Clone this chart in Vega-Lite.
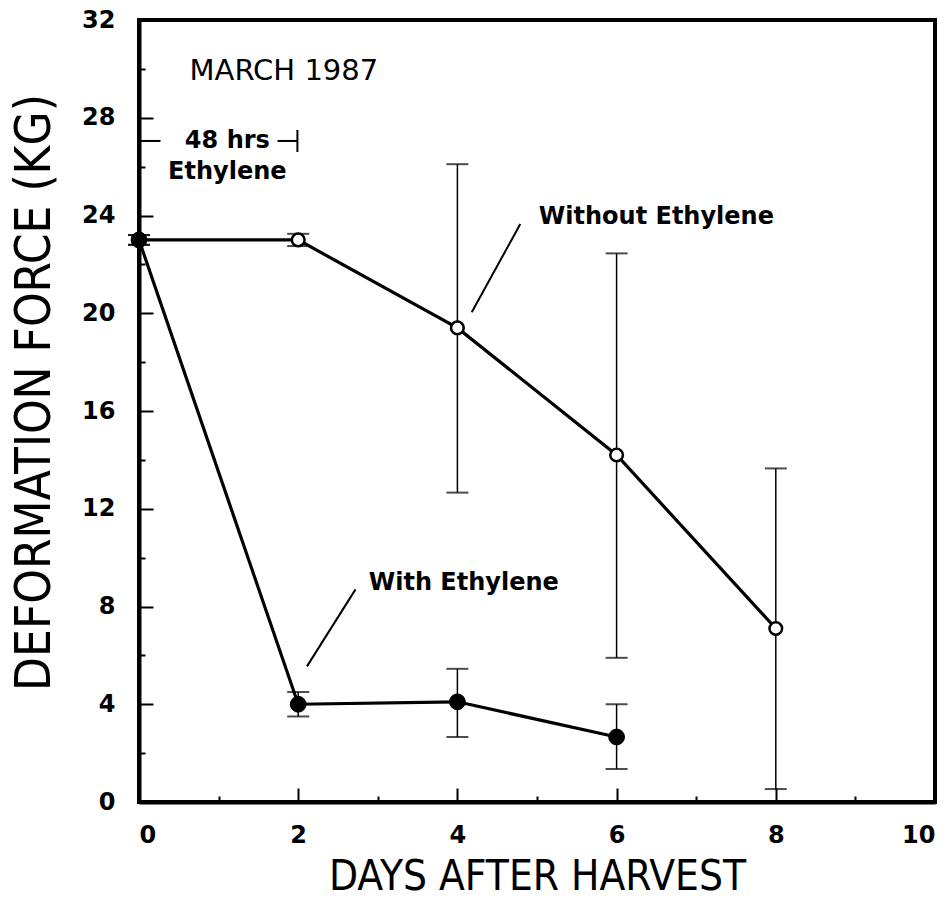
{
  "$schema": "https://vega.github.io/schema/vega-lite/v6.json",
  "width": 796,
  "height": 782,
  "autosize": {"type": "none"},
  "padding": {"left": 139, "top": 20, "right": 16, "bottom": 96},
  "background": "white",
  "config": {
    "view": {"stroke": "black", "strokeWidth": 4},
    "axis": {
      "grid": false,
      "domainColor": "black",
      "domainWidth": 4,
      "tickColor": "black",
      "tickWidth": 2,
      "labelColor": "black",
      "labelFont": "DejaVu Sans",
      "labelFontWeight": "bold",
      "labelFontSize": 24,
      "titleColor": "black",
      "titleFont": "DejaVu Sans Condensed, Liberation Sans Narrow, Roboto Condensed, DejaVu Sans",
      "titleFontWeight": "normal"
    }
  },
  "datasets": {
    "points": [
      {"day": 0, "force": 23.0, "lo": 22.8, "hi": 23.2, "series": "Without Ethylene"},
      {"day": 2, "force": 23.0, "lo": 22.75, "hi": 23.25, "series": "Without Ethylene"},
      {"day": 4, "force": 19.4, "lo": 12.66, "hi": 26.1, "series": "Without Ethylene"},
      {"day": 6, "force": 14.2, "lo": 5.9, "hi": 22.45, "series": "Without Ethylene"},
      {"day": 8, "force": 7.1, "lo": 0.53, "hi": 13.65, "series": "Without Ethylene"},
      {"day": 0, "force": 23.0, "lo": 22.8, "hi": 23.2, "series": "With Ethylene"},
      {"day": 2, "force": 4.0, "lo": 3.5, "hi": 4.5, "series": "With Ethylene"},
      {"day": 4, "force": 4.1, "lo": 2.66, "hi": 5.45, "series": "With Ethylene"},
      {"day": 6, "force": 2.66, "lo": 1.35, "hi": 4.0, "series": "With Ethylene"}
    ],
    "pointers": [
      {"x": 4.79, "y": 23.65, "x2": 4.18, "y2": 20.04},
      {"x": 2.72, "y": 8.7, "x2": 2.11, "y2": 5.55},
      {"x": 0.0, "y": 27.05, "x2": 0.27, "y2": 27.05},
      {"x": 1.74, "y": 27.05, "x2": 1.99, "y2": 27.05},
      {"x": 1.99, "y": 26.6, "x2": 1.99, "y2": 27.5}
    ],
    "bigLabels": [
      {"x": 1.82, "y": 29.9, "label": "MARCH 1987"}
    ],
    "boldLabels": [
      {"x": 1.11, "y": 27.05, "label": "48 hrs"},
      {"x": 1.11, "y": 25.8, "label": "Ethylene"},
      {"x": 6.5, "y": 23.93, "label": "Without Ethylene"},
      {"x": 4.08, "y": 8.98, "label": "With Ethylene"}
    ]
  },
  "layer": [
    {
      "data": {"name": "points"},
      "mark": {"type": "rule", "color": "black", "strokeWidth": 1.5},
      "encoding": {
        "x": {
          "field": "day", "type": "quantitative",
          "scale": {"domain": [0, 10], "nice": false},
          "axis": {
            "values": [0, 1, 2, 3, 4, 5, 6, 7, 8, 9, 10],
            "format": "d",
            "labelExpr": "datum.value % 2 == 0 ? datum.label : ''",
            "tickSize": {"condition": {"test": "datum.value % 2 == 0", "value": -14}, "value": -6},
            "labelPadding": 35,
            "title": "DAYS AFTER HARVEST",
            "titleFontSize": 42,
            "titlePadding": 9
          }
        },
        "y": {
          "field": "lo", "type": "quantitative",
          "scale": {"domain": [0, 32], "nice": false},
          "axis": {
            "values": [0, 2, 4, 6, 8, 10, 12, 14, 16, 18, 20, 22, 24, 26, 28, 30, 32],
            "format": "d",
            "labelExpr": "datum.value % 4 == 0 ? datum.label : ''",
            "tickSize": {"condition": {"test": "datum.value % 4 == 0", "value": -14}, "value": -6},
            "labelPadding": 38,
            "title": "DEFORMATION FORCE (KG)",
            "titleFontSize": 49,
            "titlePadding": 22,
            "titleY": 372
          }
        },
        "y2": {"field": "hi"}
      }
    },
    {
      "data": {"name": "points"},
      "mark": {"type": "tick", "orient": "horizontal", "color": "black", "size": 22, "thickness": 2},
      "encoding": {
        "x": {"field": "day", "type": "quantitative"},
        "y": {"field": "lo", "type": "quantitative"}
      }
    },
    {
      "data": {"name": "points"},
      "mark": {"type": "tick", "orient": "horizontal", "color": "black", "size": 22, "thickness": 2},
      "encoding": {
        "x": {"field": "day", "type": "quantitative"},
        "y": {"field": "hi", "type": "quantitative"}
      }
    },
    {
      "data": {"name": "points"},
      "mark": {"type": "line", "color": "black", "strokeWidth": 3.2},
      "encoding": {
        "x": {"field": "day", "type": "quantitative"},
        "y": {"field": "force", "type": "quantitative"},
        "detail": {"field": "series"}
      }
    },
    {
      "data": {"name": "points"},
      "transform": [{"filter": "datum.series == 'Without Ethylene'"}],
      "mark": {"type": "point", "shape": "circle", "fill": "white", "stroke": "black", "strokeWidth": 2.5, "size": 160, "opacity": 1, "filled": false},
      "encoding": {
        "x": {"field": "day", "type": "quantitative"},
        "y": {"field": "force", "type": "quantitative"}
      }
    },
    {
      "data": {"name": "points"},
      "transform": [{"filter": "datum.series == 'With Ethylene'"}],
      "mark": {"type": "point", "shape": "circle", "fill": "black", "stroke": "black", "strokeWidth": 1, "size": 250, "opacity": 1, "filled": true},
      "encoding": {
        "x": {"field": "day", "type": "quantitative"},
        "y": {"field": "force", "type": "quantitative"}
      }
    },
    {
      "data": {"name": "pointers"},
      "mark": {"type": "rule", "color": "black", "strokeWidth": 2},
      "encoding": {
        "x": {"field": "x", "type": "quantitative"},
        "y": {"field": "y", "type": "quantitative"},
        "x2": {"field": "x2"},
        "y2": {"field": "y2"}
      }
    },
    {
      "data": {"name": "bigLabels"},
      "mark": {"type": "text", "font": "DejaVu Sans", "fontSize": 29, "fontWeight": "normal", "color": "black", "align": "center", "baseline": "middle"},
      "encoding": {
        "x": {"field": "x", "type": "quantitative"},
        "y": {"field": "y", "type": "quantitative"},
        "text": {"field": "label"}
      }
    },
    {
      "data": {"name": "boldLabels"},
      "mark": {"type": "text", "font": "DejaVu Sans", "fontSize": 24, "fontWeight": "bold", "color": "black", "align": "center", "baseline": "middle"},
      "encoding": {
        "x": {"field": "x", "type": "quantitative"},
        "y": {"field": "y", "type": "quantitative"},
        "text": {"field": "label"}
      }
    }
  ]
}
